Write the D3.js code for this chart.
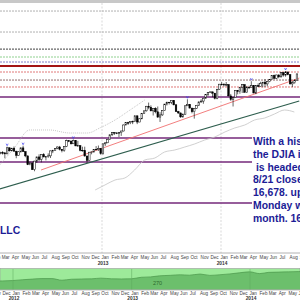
<!DOCTYPE html>
<html>
<head>
<meta charset="utf-8">
<script src="https://cdn.jsdelivr.net/npm/d3@7"></script>
<style>
body { margin: 0; background: #fff; }
svg { display: block; }
</style>
</head>
<body>
<div id="chart"></div>
<script>
// weekly DJIA bars, Fridays from 2012-02-17 to 2014-08-22
const weekStart = new Date(2012, 1, 17);
const weekEnd = new Date(2014, 7, 23);
const firstOpen = 12800;
const closes = [
  12950,12983,12978,12922,13233,13081,13212,13060,12850,13029,13228,13038,12821,12369,12454,12119,12554,12767,12640,12880,12772,12777,12822,13075,13096,13208,13275,13158,13090,13306,13593,13579,13437,13610,13329,13343,13107,13093,12815,12588,13010,13026,13155,13135,13190,12938,
  13435,13488,13650,13896,14010,13993,13982,14001,14090,14397,14515,14512,14579,14565,14865,14548,14712,14974,15118,15354,15303,15116,15248,15070,14800,14910,15136,15464,15544,15559,15658,15425,15081,15010,14810,14922,15376,15452,15258,15073,15237,15400,15570,15615,15762,15962,16065,16086,16020,15755,16221,16479,
  16470,16437,16459,15880,15699,15794,16154,16103,16322,16453,16066,16303,16323,16412,16027,16409,16361,16513,16583,16491,16607,16717,16924,16776,16948,16851,17068,16944,17100,16961,16493,16553,16663,17001
];
const highs = [
  12970,13030,13060,12990,13290,13250,13230,13300,13080,13060,13250,13340,13050,12830,12540,12530,12570,12780,12900,12890,12960,12790,12950,13090,13130,13220,13300,13330,13170,13310,13650,13620,13590,13660,13620,13590,13350,13290,13290,12820,13020,13030,13170,13320,13350,13200,
  13440,13500,13660,13910,14020,14020,14020,14040,14100,14420,14540,14560,14590,14620,14890,14870,14730,15010,15130,15370,15540,15400,15260,15300,15340,15050,15150,15470,15590,15570,15660,15660,15470,15120,15030,14990,15390,15710,15460,15270,15250,15420,15600,15710,15790,15970,16070,16100,16100,16030,16240,16490,
  16590,16530,16590,16480,15980,15810,16170,16160,16340,16460,16470,16390,16400,16630,16430,16420,16520,16600,16590,16740,16620,16730,16930,16970,16960,16980,17080,17090,17150,17120,16980,16640,16730,17020
];
const lows = [
  12780,12900,12890,12700,12910,13040,13050,13040,12700,12840,12990,13030,12750,12350,12340,12100,12035,12460,12560,12490,12740,12590,12720,12710,12960,13090,13160,13100,13000,13030,13270,13520,13400,13430,13320,13320,13050,13030,12780,12470,12580,12900,12980,13120,13070,12880,
  12880,13330,13470,13630,13830,13890,13930,13780,13840,14070,14380,14400,14440,14440,14550,14440,14540,14690,14960,15080,15200,15100,14880,14990,14760,14550,14860,15130,15390,15440,15460,15400,15060,14960,14760,14770,14920,15360,15250,14990,14720,15210,15370,15540,15480,15740,15870,16030,15810,15700,15710,16200,
  16410,16360,16370,15860,15630,15340,15780,15960,15990,16030,16050,16060,16230,16320,16020,15970,16340,16360,16320,16330,16370,16580,16700,16730,16740,16780,16820,16860,16860,16930,16460,16330,16500,16660
];

// horizontal levels (price)
const dashedLevels = [20210, 19140, 18270, 17865, 17610, 17100, 16690, 16335];
const dashedColors = ['#b0b0b0', '#b0b0b0', '#666666', '#8fd08f', '#8080c8', '#e07878', '#907070', '#e07878'];
const resistanceLevel = 17405;
const channelTop = 15825;
const boxLevels = [13735, 12510, 10415];

// trend lines [date, price]
const redTrend = [["2012-06-28", 12100], ["2014-08-29", 16790]];
const greenTrend = [["2012-02-22", 11130], ["2014-08-29", 15620]];

// faint comparison lines
const grayLowDates = ["2012-12-11","2013-01-10","2013-02-10","2013-03-12","2013-04-11","2013-05-12","2013-06-12","2013-07-12","2013-08-12","2013-09-12","2013-10-12","2013-11-12","2013-12-13","2014-01-13","2014-02-12","2014-03-15","2014-04-14","2014-05-15","2014-06-14","2014-07-15","2014-08-14"];
const grayLowValues = [11080,11335,11590,11692,12100,12610,12712,13018,13120,13273,13427,13631,13784,14039,14243,14396,14651,14753,14957,15161,15059];
const grayDotDates = ["2012-02-22","2012-04-07","2012-05-24","2012-07-24","2012-09-24","2012-11-18","2012-12-25","2013-02-10","2013-03-28","2013-05-12"];
const grayDotValues = [12355,13222,14141,14141,13988,13988,14243,14651,15161,15671];

// blue pivot markers
const markerDates = ["2012-03-16","2012-05-04","2012-10-05","2013-09-20","2014-04-04","2014-07-18"];

// overview panel, month-end closes
const overviewDates = ["2011-10-31","2011-11-30","2011-12-30","2012-01-31","2012-02-29","2012-03-30","2012-04-30","2012-05-31","2012-06-29","2012-07-31","2012-08-31","2012-09-28","2012-10-31","2012-11-30","2012-12-31","2013-01-31","2013-02-28","2013-03-28","2013-04-30","2013-05-31","2013-06-28","2013-07-31","2013-08-30","2013-09-30","2013-10-31","2013-11-29","2013-12-31","2014-01-31","2014-02-28","2014-03-31","2014-04-30","2014-05-30","2014-06-30","2014-07-31"];
const overviewValues = [11955,12046,12218,12633,12952,13212,13214,12393,12880,13009,13091,13437,13096,13026,13104,13861,14054,14579,14840,15116,14910,15500,14810,15130,15546,16086,16577,15699,16322,16458,16581,16717,16827,16563];
const overviewLabel = "270";

const noteLines = ["With a his", "the DJIA in", " is headed", "8/21 close", "16,678. up", "Monday w", "month. 16,"];
const firmText = "LLC";

const W = 300, H = 300;
const parse = d3.timeParse("%Y-%m-%d");
const navy = "#1c1c96";
const purple = "#74287a";

const x = d3.scaleTime()
  .domain([new Date(2013, 0, 1), new Date(2014, 0, 1)])
  .range([102, 221]);
const y = d3.scaleLinear()
  .domain([12100, 17100])
  .range([170, 72]);
const xo = d3.scaleTime()
  .domain([new Date(2012, 0, 1), new Date(2014, 0, 1)])
  .range([13, 250]);
const yo = d3.scaleLinear()
  .domain([8000, 18000])
  .range([289, 269]);

const svg = d3.select('#chart').append('svg')
  .attr('width', W).attr('height', H)
  .attr('viewBox', [0, 0, W, H])
  .attr('font-family', 'Liberation Sans, Arial, sans-serif');

svg.append('rect').attr('x', 0).attr('y', 0).attr('width', W).attr('height', 3).attr('fill', '#c8c8c8');

const main = svg.append('g');

// year grid
const years = [new Date(2013, 0, 1), new Date(2014, 0, 1)];
main.selectAll('.ygrid').data(years).join('line')
  .attr('x1', d => x(d)).attr('x2', d => x(d))
  .attr('y1', 3).attr('y2', 253)
  .attr('stroke', '#cfcfcf').attr('stroke-width', 0.8)
  .attr('stroke-dasharray', '2,1.5');

// dashed levels
main.selectAll('.lvl').data(dashedLevels).join('line')
  .attr('x1', 0).attr('x2', W)
  .attr('y1', d => y(d)).attr('y2', d => y(d))
  .attr('stroke', (d, i) => dashedColors[i])
  .attr('stroke-width', (d, i) => i === 2 ? 1.2 : 1)
  .attr('stroke-dasharray', '2,1');

main.append('line')
  .attr('x1', 0).attr('x2', W)
  .attr('y1', y(resistanceLevel)).attr('y2', y(resistanceLevel))
  .attr('stroke', '#a31414').attr('stroke-width', 2);

main.append('line')
  .attr('x1', 0).attr('x2', W)
  .attr('y1', y(channelTop)).attr('y2', y(channelTop))
  .attr('stroke', purple).attr('stroke-width', 1.5);

main.selectAll('.box').data(boxLevels).join('line')
  .attr('x1', 0).attr('x2', 252)
  .attr('y1', d => y(d)).attr('y2', d => y(d))
  .attr('stroke', purple).attr('stroke-width', 1.5);

// faint lines
const line = d3.line().x(d => x(d[0])).y(d => y(d[1])).curve(d3.curveMonotoneX);
main.append('path')
  .attr('d', line(grayLowDates.map((d, i) => [parse(d), grayLowValues[i]])))
  .attr('fill', 'none').attr('stroke', '#c4c4c4').attr('stroke-width', 0.8);
main.append('path')
  .attr('d', line(grayDotDates.map((d, i) => [parse(d), grayDotValues[i]])))
  .attr('fill', 'none').attr('stroke', '#b8b8b8').attr('stroke-width', 0.8)
  .attr('stroke-dasharray', '1,1');

// trend lines
const straight = d3.line().x(d => x(parse(d[0]))).y(d => y(d[1]));
main.append('path').attr('d', straight(greenTrend))
  .attr('fill', 'none').attr('stroke', '#2e5e4e').attr('stroke-width', 1.2);
main.append('path').attr('d', straight(redTrend))
  .attr('fill', 'none').attr('stroke', '#f07070').attr('stroke-width', 0.9);

// candles
const weeks = d3.timeFriday.range(weekStart, weekEnd);
const candles = weeks.map((d, i) => ({
  date: d,
  open: i ? closes[i - 1] : firstOpen,
  close: closes[i], high: highs[i], low: lows[i]
}));
const cg = main.append('g');
cg.selectAll('line').data(candles).join('line')
  .attr('x1', d => x(d.date)).attr('x2', d => x(d.date))
  .attr('y1', d => y(d.high)).attr('y2', d => y(d.low))
  .attr('stroke', '#000').attr('stroke-width', 0.6);
cg.selectAll('rect').data(candles).join('rect')
  .attr('x', d => x(d.date) - 0.8).attr('width', 1.6)
  .attr('y', d => y(Math.max(d.open, d.close)))
  .attr('height', d => Math.max(0.6, Math.abs(y(d.open) - y(d.close))))
  .attr('fill', d => d.close >= d.open ? '#fff' : '#000')
  .attr('stroke', '#000').attr('stroke-width', 0.5);

// pivot markers
const byTime = new Map(candles.map(c => [+c.date, c]));
main.selectAll('.mk').data(markerDates.map(d => byTime.get(+parse(d))).filter(Boolean)).join('path')
  .attr('d', d => `M${x(d.date) - 1},${y(d.high) - 3}L${x(d.date)},${y(d.high) - 1}L${x(d.date) + 1},${y(d.high) - 3}`)
  .attr('fill', 'none').attr('stroke', '#3c3cf0').attr('stroke-width', 0.7);

// note text
main.selectAll('.note').data(noteLines).join('text')
  .attr('x', 253).attr('y', (d, i) => 145 + i * 12.8)
  .attr('fill', navy).attr('font-weight', 'bold').attr('font-size', 10.4)
  .style('white-space', 'pre')
  .text(d => d);
main.append('text').attr('x', 0).attr('y', 234)
  .attr('fill', navy).attr('font-weight', 'bold').attr('font-size', 10.4)
  .text(firmText);

// main time axis
const monthFmt = d3.timeFormat('%b');
main.append('line').attr('x1', 0).attr('x2', W).attr('y1', 253).attr('y2', 253)
  .attr('stroke', '#a0a0a0').attr('stroke-width', 0.8);
const months = d3.timeMonth.range(new Date(2012, 1, 1), new Date(2014, 9, 1));
main.selectAll('.mt').data(months).join('text')
  .attr('x', d => x(d) - 0.5).attr('y', 259)
  .attr('font-size', 4.6).attr('fill', '#444')
  .text(d => monthFmt(d));
main.selectAll('.yt').data(years).join('text')
  .attr('x', d => x(d) + 1).attr('y', 264.5)
  .attr('text-anchor', 'middle').attr('font-size', 4.8).attr('font-weight', 'bold').attr('fill', '#333')
  .text(d => d.getFullYear());

// overview panel
const ov = svg.append('g');
ov.append('rect').attr('x', 0).attr('y', 268.5).attr('width', W).attr('height', 21)
  .attr('fill', '#9dea9a').attr('stroke', '#999').attr('stroke-width', 0.6);
const ovData = overviewDates.map((d, i) => [parse(d), overviewValues[i]]);
ov.append('path')
  .attr('d', d3.area().x(d => xo(d[0])).y0(289.5).y1(d => yo(d[1])).curve(d3.curveMonotoneX)(ovData))
  .attr('fill', '#6cbf6c');
ov.append('path')
  .attr('d', d3.line().x(d => xo(d[0])).y(d => yo(d[1])).curve(d3.curveMonotoneX)(ovData))
  .attr('fill', 'none').attr('stroke', '#4a974a').attr('stroke-width', 0.7);
const ovYears = [new Date(2012, 0, 1), new Date(2013, 0, 1), new Date(2014, 0, 1)];
ov.selectAll('.og').data(ovYears).join('line')
  .attr('x1', d => xo(d)).attr('x2', d => xo(d)).attr('y1', 269).attr('y2', 289.5)
  .attr('stroke', '#5fa85f').attr('stroke-width', 0.5);
ov.append('text').attr('x', 153).attr('y', 284.5).attr('font-size', 5.5)
  .attr('fill', '#2d6a2d').text(overviewLabel);
ov.append('line').attr('x1', 0).attr('x2', W).attr('y1', 290).attr('y2', 290)
  .attr('stroke', '#999').attr('stroke-width', 0.6);
const ovMonths = d3.timeMonth.range(new Date(2011, 10, 1), new Date(2014, 6, 1));
ov.selectAll('.om').data(ovMonths).join('text')
  .attr('x', d => xo(d) - 0.5).attr('y', 295)
  .attr('font-size', 4.6).attr('fill', '#444')
  .text(d => monthFmt(d));
ov.selectAll('.oy').data(ovYears).join('text')
  .attr('x', d => xo(d) + 1).attr('y', 299.5)
  .attr('text-anchor', 'middle').attr('font-size', 4.8).attr('font-weight', 'bold').attr('fill', '#333')
  .text(d => d.getFullYear());
</script>
</body>
</html>
